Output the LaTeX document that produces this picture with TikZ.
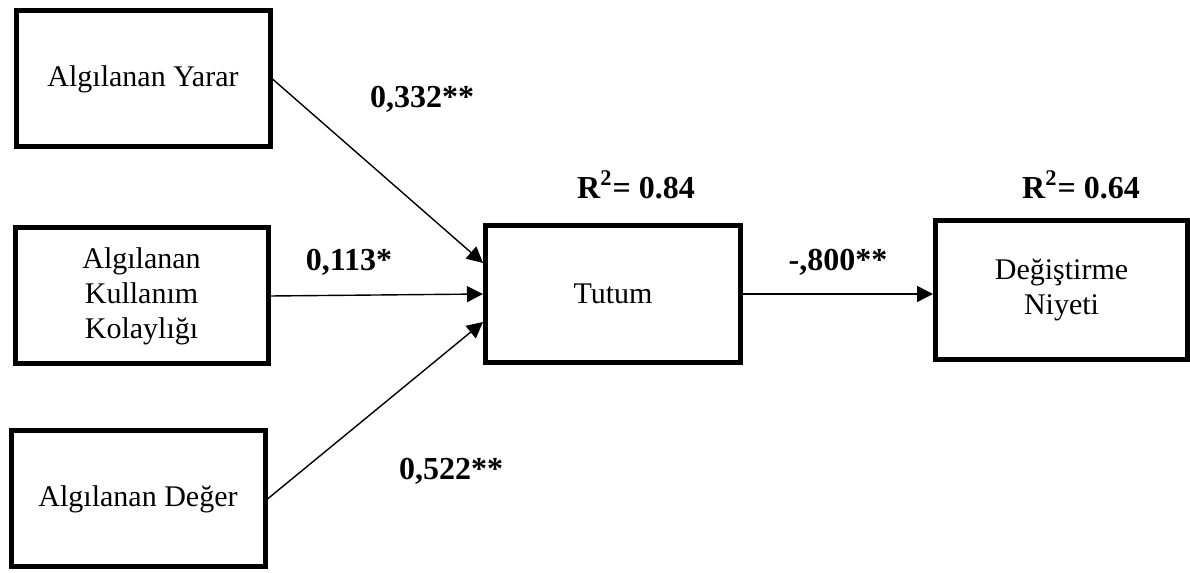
\documentclass[tikz,border=0pt]{standalone}
\usepackage{fontspec}
\setmainfont{Liberation Serif}
\usetikzlibrary{arrows.meta}

\begin{document}
\begin{tikzpicture}[x=0.5pt,y=0.5pt,
  box/.style={draw,line width=2.5pt,align=center,inner sep=0pt,
    font=\fontsize{15}{17.5}\selectfont},
  coef/.style={font=\fontsize{16}{19}\selectfont\bfseries},
  link/.style={line width=0.7pt,-{Triangle[length=8pt,width=8pt]}}]
  \useasboundingbox (0,0) rectangle (1190,573);
  % boxes
  \node[box,minimum width=127pt,minimum height=68pt]   (yarar) at (143,494)    {Algılanan Yarar};
  \node[box,minimum width=126.5pt,minimum height=68pt] (kolay) at (141.5,277)  {Algılanan\\Kullanım\\Kolaylığı};
  \node[box,minimum width=127pt,minimum height=68pt]   (deger) at (138,74)     {Algılanan Değer};
  \node[box,minimum width=127.5pt,minimum height=68.5pt] (tutum) at (613,279)  {Tutum};
  \node[box,minimum width=126pt,minimum height=69.5pt] (niyet) at (1061.5,283) {Değiştirme\\Niyeti};
  % paths
  \draw[link] (yarar.east) -- ([yshift=15.5pt]tutum.west);
  \draw[link] (kolay.east) -- (tutum.west);
  \draw[link] (deger.east) -- ([yshift=-14pt]tutum.west);
  \draw[link] (tutum.east) -- (tutum.east -| niyet.west);
  % coefficients
  \node[coef] (c332) at (422,474)  {0,332**};
  \node[coef] (c113) at (349,311)  {0,113*};
  \node[coef] (c522) at (451,102)  {0,522**};
  \node[coef] (c800) at (838,311)  {-,800**};
  \node[coef] (r084) at (636,388)  {R\textsuperscript{2}= 0.84};
  \node[coef] (r064) at (1081,388) {R\textsuperscript{2}= 0.64};
\end{tikzpicture}
\end{document}
